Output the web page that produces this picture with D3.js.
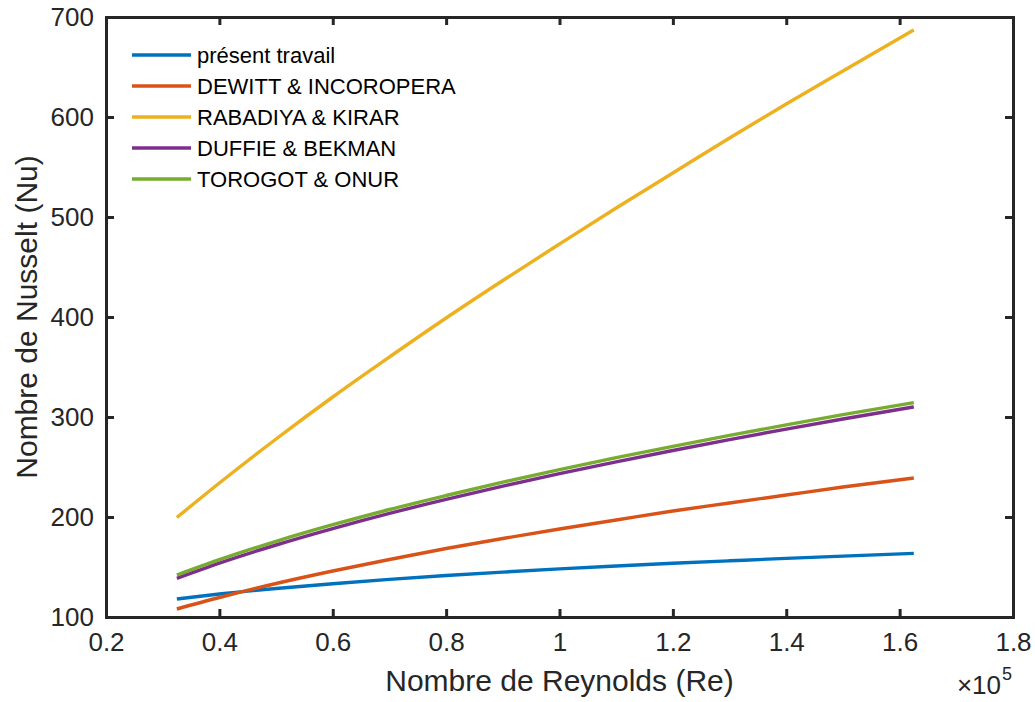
<!DOCTYPE html>
<html><head><meta charset="utf-8">
<script src="https://cdn.jsdelivr.net/npm/d3@7"></script>
<style>body{margin:0;background:#fff}svg{display:block;font-family:"Liberation Sans",Arial,sans-serif}</style>
</head><body><svg id="c" width="1035" height="702"></svg>
<script>
// Reynolds number (x 10^5)
const reynolds = [0.325, 0.4, 0.5, 0.6, 0.7, 0.8, 0.9, 1.0, 1.1, 1.2, 1.3, 1.4, 1.5, 1.625];
const presentTravail = [118, 123, 128.5, 133.3, 137.6, 141.5, 144.9, 148.1, 151, 153.7, 156.2, 158.6, 160.9, 163.6];
const dewittIncropera = [108, 119.5, 133.5, 146, 157.5, 168.5, 178.5, 188, 197, 206, 214, 222, 230, 239];
const rabadiyaKirar = [199.5, 234, 278, 320, 360, 399, 436.5, 473, 509, 544, 579, 613, 646, 687];
const duffieBekman = [138.7, 153.9, 172, 188.4, 203.6, 217.6, 230.8, 243.3, 255.2, 266.5, 277.4, 287.9, 298, 310.1];
const torogotOnur = [142, 157.3, 175.7, 192.3, 207.5, 221.5, 234.9, 247.4, 259.3, 270.7, 281.6, 292.1, 302.3, 314.4];
const seriesNames = ["présent travail", "DEWITT & INCOROPERA", "RABADIYA & KIRAR", "DUFFIE & BEKMAN", "TOROGOT & ONUR"];
const seriesColors = ["#0072BD", "#D95319", "#EDB120", "#7E2F8E", "#77AC30"];
const xTicks = [0.2, 0.4, 0.6, 0.8, 1, 1.2, 1.4, 1.6, 1.8];
const yTicks = [100, 200, 300, 400, 500, 600, 700];

const seriesValues = [presentTravail, dewittIncropera, rabadiyaKirar, duffieBekman, torogotOnur];
const svg = d3.select("#c");
const L = 106, T = 17, R = 1013, B = 617;
const x = d3.scaleLinear().domain([0.2, 1.8]).range([L, R]);
const y = d3.scaleLinear().domain([100, 700]).range([B, T]);
const axisColor = "#262626";
const fs = 26;

// data lines
const line = d3.line().x(d => x(d[0])).y(d => y(d[1])).curve(d3.curveMonotoneX);
seriesValues.forEach((vals, i) => {
  svg.append("path").datum(reynolds.map((r, j) => [r, vals[j]]))
    .attr("d", line).attr("fill", "none").attr("stroke", seriesColors[i])
    .attr("stroke-width", 3.4).attr("stroke-linejoin", "round");
});

// axes (MATLAB style: inward ticks, box)
const tickLen = 8;
const gB = svg.append("g").attr("transform", `translate(0,${B})`)
  .call(d3.axisBottom(x).tickValues(xTicks).tickSize(-tickLen).tickPadding(16).tickFormat(d3.format("")));
const gT = svg.append("g").attr("transform", `translate(0,${T})`)
  .call(d3.axisTop(x).tickValues(xTicks).tickSize(-tickLen).tickFormat(""));
const gL = svg.append("g").attr("transform", `translate(${L},0)`)
  .call(d3.axisLeft(y).tickValues(yTicks).tickSize(-tickLen).tickPadding(12));
const gR = svg.append("g").attr("transform", `translate(${R},0)`)
  .call(d3.axisRight(y).tickValues(yTicks).tickSize(-tickLen).tickFormat(""));
[gB, gT, gL, gR].forEach(g => {
  g.select(".domain").attr("stroke", axisColor).attr("stroke-width", 3);
  g.selectAll(".tick line").attr("stroke", axisColor).attr("stroke-width", 3);
  g.selectAll(".tick text").attr("fill", axisColor).style("font-size", fs + "px").style("font-family", "Liberation Sans, Arial, sans-serif");
});
// hide ticks at the box corners
[gB, gT].forEach(g => g.selectAll(".tick line").filter(d => d === 0.2 || d === 1.8).remove());
[gL, gR].forEach(g => g.selectAll(".tick line").filter(d => d === 100 || d === 700).remove());

// axis titles
svg.append("text").attr("x", (L + R) / 2).attr("y", 691).attr("text-anchor", "middle")
  .attr("fill", axisColor).style("font-size", "30px").text("Nombre de Reynolds (Re)");
svg.append("text").attr("transform", `translate(37,${(T + B) / 2}) rotate(-90)`).attr("text-anchor", "middle")
  .attr("fill", axisColor).style("font-size", "30px").text("Nombre de Nusselt (Nu)");
// exponent
svg.append("text").attr("x", 1001).attr("y", 694).attr("text-anchor", "end").attr("fill", axisColor)
  .style("font-size", "26px").text("×10");
svg.append("text").attr("x", 1002).attr("y", 680).attr("fill", axisColor).style("font-size", "18px").text("5");

// legend
const lg = svg.append("g");
seriesNames.forEach((n, i) => {
  const yy = 55 + i * 31;
  lg.append("line").attr("x1", 132).attr("x2", 191).attr("y1", yy).attr("y2", yy)
    .attr("stroke", seriesColors[i]).attr("stroke-width", 3.4);
  lg.append("text").attr("x", 197).attr("y", yy).attr("dy", "0.35em").attr("fill", "#000")
    .style("font-size", "22px").text(n);
});
</script></body></html>
